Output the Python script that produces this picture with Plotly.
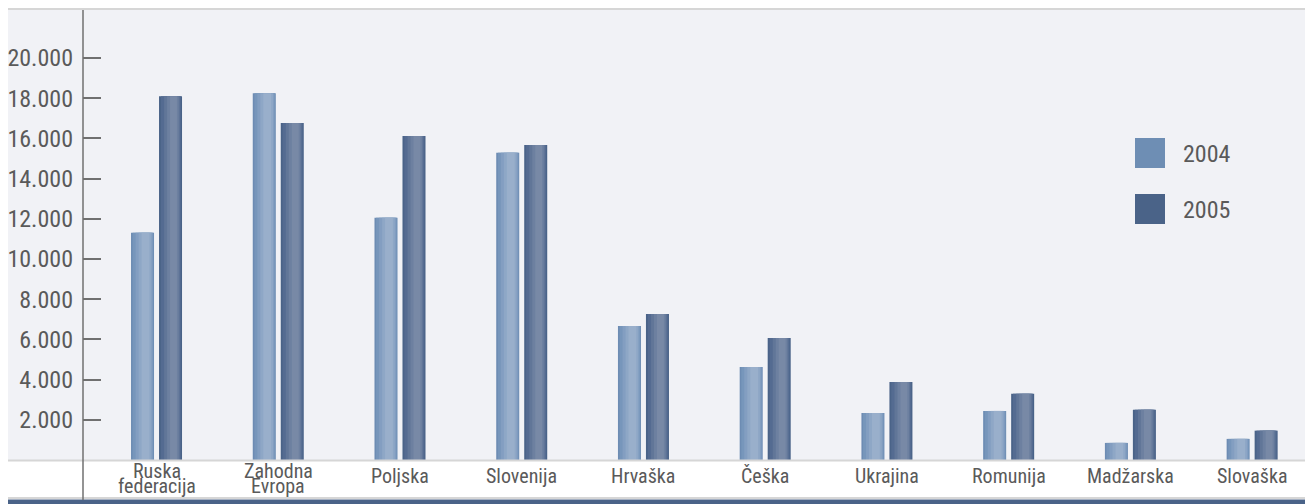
import plotly.graph_objects as go

categories = ["Ruska\nfederacija", "Zahodna\nEvropa", "Poljska", "Slovenija", "Hrvaška",
              "Češka", "Ukrajina", "Romunija", "Madžarska", "Slovaška"]
series_names = ["2004", "2005"]
values_2004 = [11300, 18250, 12050, 15280, 6670, 4630, 2340, 2440, 850, 1050]
values_2005 = [18100, 16770, 16120, 15670, 7260, 6070, 3880, 3290, 2500, 1460]
tick_values = [2000, 4000, 6000, 8000, 10000, 12000, 14000, 16000, 18000, 20000]
tick_labels = ["2.000", "4.000", "6.000", "8.000", "10.000", "12.000", "14.000",
               "16.000", "18.000", "20.000"]

FONT = "Roboto Condensed, DejaVu Sans Condensed, sans-serif"
TXT = "#5a5a5a"
# the page body adds an 8px offset; reference pixel r maps to figure pixel r - 8
W, H = 1305, 496
L, R, T, B = 75, 0, 2, 44
PW, PH = W - L - R, H - T - B


def px_x(x):  # reference pixel -> paper
    return (x - 8 - L) / PW


def px_y(y):
    return (H - B - (y - 8)) / PH


cat_ids = list(range(len(categories)))
bw = 0.189
offsets = [-0.2095, 0.0205]
layers = [
    [(0.0, 1.0, "#6d8cb3"), (0.07, 0.97, "#7796bb"), (0.2, 0.93, "#839ec1"),
     (0.33, 0.88, "#8ea7c6"), (0.46, 0.8, "#99afcb")],
    [(0.0, 1.0, "#4a6388"), (0.08, 0.95, "#546b91"), (0.22, 0.9, "#617698"),
     (0.35, 0.85, "#6d80a0"), (0.48, 0.78, "#7889a6")],
]
base_colors = ["#6e8eb4", "#4a6388"]

fig = go.Figure()
for s, vals in enumerate([values_2004, values_2005]):
    for (l, r, c) in layers[s]:
        fig.add_trace(go.Bar(
            x=cat_ids, y=vals, name=series_names[s],
            width=bw * (r - l), offset=offsets[s] + bw * l,
            marker=dict(color=c, line=dict(width=0)), opacity=1,
            showlegend=False, hoverinfo="y" if l == 0 else "skip",
        ))

shapes = [
    dict(type="rect", xref="paper", yref="paper", x0=px_x(7), x1=1, y0=0, y1=1,
         fillcolor="#f1f2f6", line=dict(width=0), layer="below"),
    dict(type="line", xref="paper", yref="paper", x0=px_x(7), x1=1, y0=px_y(9), y1=px_y(9),
         line=dict(color="#d6d6d6", width=2)),
    dict(type="line", xref="paper", yref="paper", x0=px_x(7), x1=1, y0=px_y(460.5), y1=px_y(460.5),
         line=dict(color="#d6d6d6", width=2)),
    dict(type="line", xref="paper", yref="paper", x0=px_x(7), x1=1, y0=px_y(498), y1=px_y(498),
         line=dict(color="#d6d6d6", width=2)),
    dict(type="rect", xref="paper", yref="paper", x0=px_x(7), x1=1, y0=px_y(505), y1=px_y(499.5),
         fillcolor="#4a6388", line=dict(width=0)),
    dict(type="line", xref="paper", yref="paper", x0=0, x1=0, y0=px_y(500), y1=px_y(10),
         line=dict(color="#707070", width=1.5)),
]

annotations = []
for i, cat in enumerate(categories):
    lines = cat.split("\n")
    ys = [476] if len(lines) == 1 else [471, 486]
    for ln, yy in zip(lines, ys):
        annotations.append(dict(x=i, xref="x", y=px_y(yy), yref="paper", text=ln,
                                showarrow=False, xanchor="center", yanchor="middle",
                                font=dict(family=FONT, size=20, color=TXT)))

leg_top = [138, 194]
for s, name in enumerate(series_names):
    shapes.append(dict(type="rect", xref="paper", yref="paper",
                       x0=px_x(1135), x1=px_x(1165), y0=px_y(leg_top[s] + 30), y1=px_y(leg_top[s]),
                       fillcolor=base_colors[s], line=dict(width=0)))
    annotations.append(dict(x=px_x(1181), xref="paper", y=px_y(leg_top[s] + 16), yref="paper",
                            text=name, showarrow=False, xanchor="left", yanchor="middle",
                            font=dict(family=FONT, size=24, color=TXT)))

y_top = PH / 402 * 20000

fig.update_layout(
    width=W, height=H,
    margin=dict(l=L, r=R, t=T, b=B, autoexpand=False),
    paper_bgcolor="white", plot_bgcolor="#f1f2f6",
    barmode="overlay",
    showlegend=False,
    shapes=shapes, annotations=annotations,
    xaxis=dict(range=[-0.604, 9.5], showticklabels=False, ticks="", showgrid=False,
               zeroline=False, showline=False, fixedrange=True, automargin=False),
    yaxis=dict(range=[0, y_top], tickvals=tick_values, ticktext=tick_labels,
               ticks="inside", ticklen=18, tickwidth=2, tickcolor="#707070",
               showgrid=False, zeroline=False, showline=False, ticklabelstandoff=9,
               tickfont=dict(family=FONT, size=24, color=TXT),
               fixedrange=True, automargin=False),
    font=dict(family=FONT, color=TXT),
)

fig.write_html("out.html", config={"displayModeBar": False})
